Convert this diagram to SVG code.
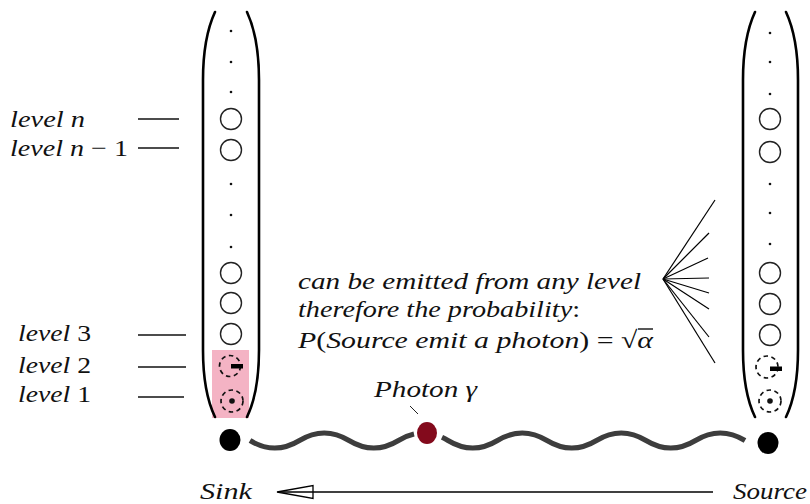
<svg xmlns="http://www.w3.org/2000/svg" width="810" height="504" viewBox="0 0 810 504">
<style>
.t{font-family:"Liberation Serif","DejaVu Serif",serif;font-style:italic;font-size:24px;fill:#111}
.u{font-style:normal}
.par{fill:none;stroke:#000;stroke-width:2.6;stroke-linecap:round}
.c{fill:none;stroke:#222;stroke-width:1.4}
.d{fill:none;stroke:#111;stroke-width:1.7;stroke-dasharray:4.5 3.5}
.dot{fill:#111}
.ln{stroke:#111;stroke-width:1.4;fill:none}
.fan{stroke:#000;stroke-width:1.2}
</style>
<rect width="810" height="504" fill="#fff"/>

<g id="sink-column">
<rect x="212" y="350" width="37" height="68" fill="#f4b3c4"/>
<path class="par" d="M215,12 Q203,38 203,80 L203,350 Q203,392 215,417"/>
<path class="par" d="M247,12 Q259,38 259,80 L259,350 Q259,392 247,417"/>
<circle class="dot" cx="231" cy="31" r="1.3"/>
<circle class="dot" cx="231" cy="62" r="1.3"/>
<circle class="dot" cx="231" cy="92" r="1.3"/>
<circle class="c" cx="231" cy="119" r="10.5"/>
<circle class="c" cx="231" cy="150" r="10.5"/>
<circle class="dot" cx="231" cy="184" r="1.3"/>
<circle class="dot" cx="231" cy="215" r="1.3"/>
<circle class="dot" cx="231" cy="247" r="1.3"/>
<circle class="c" cx="231" cy="273" r="10.5"/>
<circle class="c" cx="231" cy="303" r="10.5"/>
<circle class="c" cx="231" cy="334" r="10.5"/>
<circle class="d" cx="230" cy="366" r="10.5"/>
<rect x="231" y="364" width="12" height="4.5" fill="#000"/>
<circle class="d" cx="232" cy="401" r="11"/>
<circle class="dot" cx="232" cy="401" r="2.8"/>
</g>

<g id="source-column">
<path class="par" d="M755,12 Q743,38 743,80 L743,350 Q743,392 755,417"/>
<path class="par" d="M786,12 Q798,38 798,80 L798,350 Q798,392 786,417"/>
<circle class="dot" cx="770" cy="33" r="1.3"/>
<circle class="dot" cx="770" cy="62" r="1.3"/>
<circle class="dot" cx="770" cy="94" r="1.3"/>
<circle class="c" cx="770" cy="119" r="10.5"/>
<circle class="c" cx="770" cy="152" r="10.5"/>
<circle class="dot" cx="770" cy="184" r="1.3"/>
<circle class="dot" cx="770" cy="213" r="1.3"/>
<circle class="dot" cx="770" cy="244" r="1.3"/>
<circle class="c" cx="770" cy="273" r="10.5"/>
<circle class="c" cx="770" cy="304" r="10.5"/>
<circle class="c" cx="770" cy="335" r="10.5"/>
<circle class="d" cx="767" cy="367" r="11"/>
<rect x="770" y="366.5" width="12" height="4.5" fill="#000"/>
<circle class="d" cx="770" cy="401" r="11"/>
<circle class="dot" cx="770" cy="401" r="2.8"/>
</g>

<g id="level-labels">
<text class="t" x="10" y="127" textLength="75" lengthAdjust="spacingAndGlyphs">level n</text>
<text class="t" x="10" y="156" textLength="118" lengthAdjust="spacingAndGlyphs">level n <tspan class="u">− 1</tspan></text>
<text class="t" x="18" y="341" textLength="73" lengthAdjust="spacingAndGlyphs">level <tspan class="u">3</tspan></text>
<text class="t" x="18" y="373" textLength="73" lengthAdjust="spacingAndGlyphs">level <tspan class="u">2</tspan></text>
<text class="t" x="18" y="402" textLength="73" lengthAdjust="spacingAndGlyphs">level <tspan class="u">1</tspan></text>
</g>

<g id="annotation">
<text class="t" x="298" y="289" textLength="343" lengthAdjust="spacingAndGlyphs">can be emitted from any level</text>
<text class="t" x="298" y="317" textLength="282" lengthAdjust="spacingAndGlyphs">therefore the probability<tspan class="u">:</tspan></text>
<text class="t" x="298" y="348" textLength="355" lengthAdjust="spacingAndGlyphs">P<tspan class="u">(</tspan>Source emit a photon<tspan class="u">) = √</tspan>α</text>
<line class="ln" x1="638" y1="329" x2="653" y2="329" stroke-width="1.2"/>
</g>

<g id="photon-label">
<text class="t" x="374" y="397" textLength="103" lengthAdjust="spacingAndGlyphs">Photon γ</text>
</g>

<g id="sink-dot"><ellipse cx="230" cy="440" rx="10.5" ry="11" fill="#000"/></g>
<g id="photon-dot"><ellipse cx="427" cy="433" rx="10" ry="11" fill="#830a1c"/></g>
<g id="source-dot"><ellipse cx="768" cy="443" rx="10.5" ry="11" fill="#000"/></g>

<g id="end-labels">
<text class="t" x="200" y="499" textLength="52" lengthAdjust="spacingAndGlyphs">Sink</text>
<text class="t" x="733" y="499" textLength="74" lengthAdjust="spacingAndGlyphs">Source</text>
</g>

<g id="connectors">
<line class="ln" x1="138" y1="119" x2="179" y2="119"/>
<line class="ln" x1="138" y1="148" x2="179" y2="148"/>
<line class="ln" x1="138" y1="335" x2="186" y2="335"/>
<line class="ln" x1="138" y1="367" x2="186" y2="367"/>
<line class="ln" x1="138" y1="397" x2="184" y2="397"/>
<g class="fan">
<line x1="663" y1="279" x2="715" y2="200"/>
<line x1="663" y1="279" x2="709" y2="233"/>
<line x1="663" y1="279" x2="708" y2="258"/>
<line x1="663" y1="279" x2="709" y2="278"/>
<line x1="663" y1="279" x2="709" y2="293"/>
<line x1="663" y1="279" x2="709" y2="309"/>
<line x1="663" y1="279" x2="709" y2="337"/>
<line x1="663" y1="279" x2="715" y2="363"/>
</g>
<line x1="410" y1="406" x2="418" y2="414" stroke="#222" stroke-width="1"/>
<path d="M250,440.5 Q274.75,455.5 299.5,440.5 T349,440.5 T398.5,440.5 Q406.25,435.8 414,434.05" fill="none" stroke="#3d3d3d" stroke-width="5" stroke-linecap="butt"/>
<path d="M442,437.3 Q445,438.7 448,440.5 Q472.75,455.5 497.5,440.5 T547,440.5 T596.5,440.5 T646,440.5 T695.5,440.5 T745,440.5" fill="none" stroke="#3d3d3d" stroke-width="5" stroke-linecap="butt"/>
<line x1="713" y1="492" x2="280" y2="492" stroke="#000" stroke-width="1.3"/>
<polygon points="277,492 313,485.5 313,498.5" fill="none" stroke="#000" stroke-width="1.3"/>
</g>
</svg>
